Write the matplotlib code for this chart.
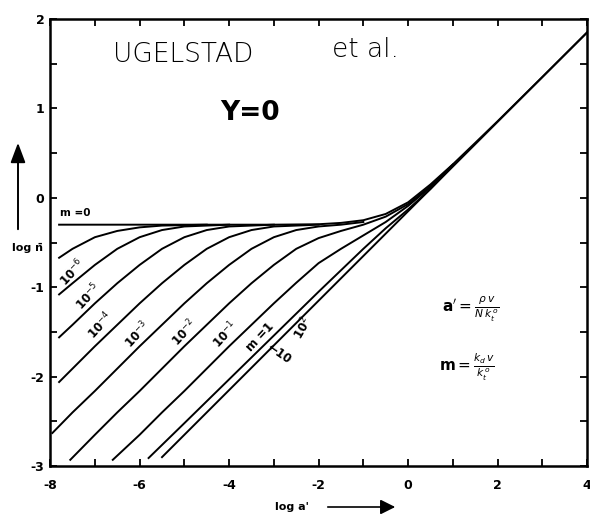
import matplotlib
matplotlib.use("Agg")
import matplotlib.pyplot as plt

plt.rcParams['axes.unicode_minus'] = False

# m = 0 curve (log a', log n)
m0_x = [-7.8, -4, -3, -2, -1.5, -1, -0.5, 0, 0.5, 1, 1.5, 2, 3, 4]
m0_y = [-0.30, -0.30, -0.30, -0.295, -0.28, -0.25, -0.18, -0.05, 0.15, 0.375, 0.615, 0.857, 1.352, 1.85]

# curves for m > 0
m7_x = [-7.8, -7.5, -7, -6.5, -6, -5.5, -5, -4.5]
m7_y = [-0.67, -0.57, -0.44, -0.37, -0.33, -0.31, -0.305, -0.30]

m6_x = [-7.8, -7.5, -7, -6.5, -6, -5.5, -5, -4.5, -4]
m6_y = [-1.08, -0.955, -0.75, -0.57, -0.44, -0.36, -0.32, -0.31, -0.30]

m5_x = [-7.8, -7.5, -7, -6.5, -6, -5.5, -5, -4.5, -4, -3.5, -3]
m5_y = [-1.56, -1.42, -1.18, -0.955, -0.75, -0.57, -0.44, -0.36, -0.32, -0.31, -0.30]

m4_x = [-7.8, -7.5, -7, -6.5, -6, -5.5, -5, -4.5, -4, -3.5, -3, -2.5, -2]
m4_y = [-2.06, -1.91, -1.66, -1.42, -1.18, -0.955, -0.75, -0.57, -0.44, -0.36, -0.32, -0.31, -0.30]

m3_x = [-7.95, -7.5, -7, -6.5, -6, -5.5, -5, -4.5, -4, -3.5, -3, -2.5, -2, -1.5, -1]
m3_y = [-2.63, -2.40, -2.16, -1.91, -1.66, -1.42, -1.18, -0.955, -0.75, -0.57, -0.44, -0.36, -0.32, -0.30, -0.27]

m2_x = [-7.55, -7, -6.5, -6, -5.5, -5, -4.5, -4, -3.5, -3, -2.5, -2, -1.5, -1, -0.5, 0, 0.5, 1]
m2_y = [-2.93, -2.65, -2.40, -2.16, -1.91, -1.66, -1.42, -1.18, -0.955, -0.75, -0.57, -0.45, -0.37, -0.30, -0.21, -0.07, 0.13, 0.37]

m1_x = [-6.6, -6, -5.5, -5, -4.5, -4, -3.5, -3, -2.5, -2, -1.5, -1, -0.5, 0, 0.5, 1]
m1_y = [-2.93, -2.65, -2.40, -2.16, -1.91, -1.66, -1.42, -1.18, -0.95, -0.73, -0.57, -0.42, -0.27, -0.09, 0.12, 0.37]

mone_x = [-5.8, -5, -4, -3, -2, -1, -0.5, 0, 0.5, 1]
mone_y = [-2.91, -2.52, -2.03, -1.54, -1.05, -0.57, -0.34, -0.13, 0.10, 0.36]

mten_x = [-5.5, -4, -2, 0, 2, 4]
mten_y = [-2.90, -2.15, -1.15, -0.15, 0.85, 1.85]

curves = [(m0_x, m0_y), (m7_x, m7_y), (m6_x, m6_y), (m5_x, m5_y), (m4_x, m4_y),
          (m3_x, m3_y), (m2_x, m2_y), (m1_x, m1_y), (mone_x, mone_y), (mten_x, mten_y)]

fig = plt.figure(figsize=(5.9, 5.15), dpi=100)
ax = fig.add_axes([0.085, 0.095, 0.91, 0.868])

for xs, ys in curves:
    ax.plot(xs, ys, color='black', lw=1.4)

ax.set_xlim(-8, 4)
ax.set_ylim(-3, 2)
ax.set_xticks([-8, -6, -4, -2, 0, 2, 4])
ax.set_xticks(range(-8, 5), minor=True)
ax.set_yticks([-3, -2, -1, 0, 1, 2])
ax.set_yticks([-2.5, -1.5, -0.5, 0.5, 1.5], minor=True)
ax.tick_params(which='both', direction='in', top=True, right=True, length=5, width=1.3)
ax.tick_params(axis='x', labelsize=9, pad=9)
ax.tick_params(axis='y', labelsize=9, pad=4)
for lab in ax.get_xticklabels() + ax.get_yticklabels():
    lab.set_fontweight('bold')
for sp in ax.spines.values():
    sp.set_linewidth(1.8)

# curve labels
ax.text(-7.44, -0.17, 'm =0', fontsize=7.5, fontweight='bold', ha='center', va='center')
lab_kw = dict(fontsize=8.5, fontweight='bold', ha='center', va='center', rotation=47)
ax.text(-7.51, -0.83, r'10$^{-6}$', **lab_kw)
ax.text(-7.15, -1.10, r'10$^{-5}$', **lab_kw)
ax.text(-6.88, -1.43, r'10$^{-4}$', **lab_kw)
ax.text(-6.06, -1.53, r'10$^{-3}$', **lab_kw)
ax.text(-5.00, -1.51, r'10$^{-2}$', **lab_kw)
ax.text(-4.09, -1.53, r'10$^{-1}$', **lab_kw)
ax.text(-3.30, -1.56, 'm =1', **lab_kw)
ax.text(-2.88, -1.74, '←10', fontsize=8.5, fontweight='bold', ha='center', va='center', rotation=-35)
ax.text(-2.35, -1.46, r'10$^{2}$', fontsize=8.5, fontweight='bold', ha='center', va='center', rotation=60)

# titles written on the figure
ax.text(-5.03, 1.6, 'UGELSTAD', fontsize=19, fontweight='light', ha='center', va='center')
ax.text(-0.96, 1.66, 'et al.', fontsize=19, fontweight='light', ha='center', va='center')
ax.text(-3.53, 0.95, 'Y=0', fontsize=19, fontweight='bold', ha='center', va='center')

# definitions
ax.text(1.39, -1.25, r"$\mathbf{a'} = \frac{\rho\,v}{N\,k_t^{\,o}}$", fontsize=11, ha='center', va='center')
ax.text(1.32, -1.90, r"$\mathbf{m} = \frac{k_d\,v}{k_t^{\,o}}$", fontsize=11, ha='center', va='center')

# axis labels with arrows
fig.text(292 / 590, 1 - 507 / 515, "log a'", fontsize=8, fontweight='bold', ha='center', va='center')
fig.add_artist(matplotlib.patches.FancyArrowPatch((325 / 590, 1 - 507 / 515), (398 / 590, 1 - 507 / 515),
                                                  transform=fig.transFigure, arrowstyle='-|>,head_length=6,head_width=3',
                                                  color='black', lw=1.2, mutation_scale=1.5))
fig.text(27 / 590, 1 - 248 / 515, 'log n̄', fontsize=8, fontweight='bold', ha='center', va='center')
fig.add_artist(matplotlib.patches.FancyArrowPatch((18 / 590, 1 - 232 / 515), (18 / 590, 1 - 140 / 515),
                                                  transform=fig.transFigure, arrowstyle='-|>,head_length=8,head_width=3',
                                                  color='black', lw=1.4, mutation_scale=1.5))

fig.savefig('out.png', dpi=100)
